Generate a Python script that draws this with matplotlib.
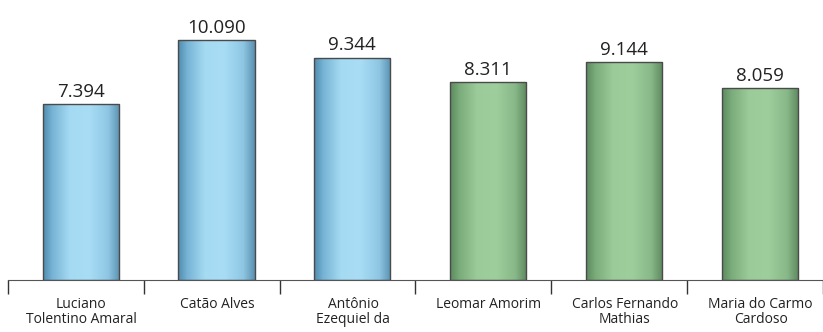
import matplotlib.pyplot as plt
import numpy as np
from matplotlib.colors import LinearSegmentedColormap

names = ["Luciano\nTolentino Amaral", "Catão Alves", "Antônio\nEzequiel da",
         "Leomar Amorim", "Carlos Fernando\nMathias", "Maria do Carmo\nCardoso"]
values = [7.394, 10.090, 9.344, 8.311, 9.144, 8.059]
labels = ["7.394", "10.090", "9.344", "8.311", "9.144", "8.059"]
groups = ["blue", "blue", "blue", "green", "green", "green"]

plt.rcParams['font.family'] = ['Open Sans', 'DejaVu Sans']

cmaps = {
    "blue": LinearSegmentedColormap.from_list("b", [(0, "#4f8bad"), (0.12, "#77b3d4"), (0.35, "#a5daf3"),
                                                    (0.6, "#a9ddf6"), (0.85, "#8ec6e2"), (1, "#5a91b1")]),
    "green": LinearSegmentedColormap.from_list("g", [(0, "#5b8a5f"), (0.12, "#7aab7a"), (0.35, "#9acb98"),
                                                     (0.6, "#9ece9c"), (0.85, "#88b887"), (1, "#5c885e")]),
}

fig = plt.figure(figsize=(8.23, 3.32), dpi=100)
ax = fig.add_axes([8 / 823, 52 / 332, 1 - 8 / 823, 280 / 332])
x = np.arange(len(values))
bars = ax.bar(x + 0.035, values, width=0.56, facecolor="none", edgecolor="#4a4a4a", linewidth=1, zorder=3)
grad = np.linspace(0, 1, 256).reshape(1, -1)
for b, g, lab in zip(bars, groups, labels):
    x0, w, h = b.get_x(), b.get_width(), b.get_height()
    im = ax.imshow(grad, cmap=cmaps[g], extent=[x0, x0 + w, 0, h], aspect="auto", zorder=2)
    im.set_clip_path(b)
    ax.text(x0 + w / 2, h + 0.3, lab, ha="center", va="baseline", fontsize=13.5, color="#222222")

ax.set_xlim(-0.5, 5.475)
ax.set_ylim(0, 11.76)
for s in ["top", "right", "left"]:
    ax.spines[s].set_visible(False)
ax.spines["bottom"].set_color("#555555")
ax.set_yticks([])
ax.set_xticks(np.arange(-0.5, 6, 1))
ax.set_xticklabels([])
ax.tick_params(axis="x", length=10, width=1, color="#333333", direction="out")
ax.set_xticks(x + 0.04, minor=True)
ax.set_xticklabels(names, minor=True, fontsize=10, color="#222222", linespacing=1.05)
ax.tick_params(axis="x", which="minor", length=0, pad=12)

fig.savefig("out.png", dpi=100)
